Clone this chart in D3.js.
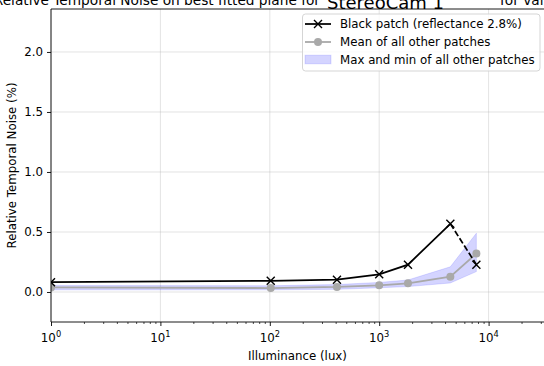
<!DOCTYPE html>
<html>
<head>
<meta charset="utf-8">
<script src="https://cdn.jsdelivr.net/npm/d3@7"></script>
<style>
  html, body { margin: 0; padding: 0; background: #fff; }
  svg { display: block; font-family: "DejaVu Sans", sans-serif; }
</style>
</head>
<body>
<svg id="chart" width="544" height="366"></svg>
<script>
// Illuminance levels (lux) at which the patches were measured
const illuminance = [1, 102, 411, 1000, 1833, 4470, 7730];
// Relative temporal noise (%) of the black patch
const blackPatch = [0.082, 0.093, 0.103, 0.147, 0.228, 0.568, 0.228];
// Mean, min and max of the remaining patches (%)
const meanOthers = [0.038, 0.033, 0.042, 0.056, 0.072, 0.128, 0.32];
const minOthers  = [0.018, 0.018, 0.022, 0.035, 0.045, 0.075, 0.17];
const maxOthers  = [0.055, 0.052, 0.062, 0.08, 0.10, 0.21, 0.49];

const xTicks = [1, 10, 100, 1000, 10000];
const xTickExp = ["0", "1", "2", "3", "4"];
const yTicks = [0.0, 0.5, 1.0, 1.5, 2.0];

const titleLead = "Relative Temporal Noise on best fitted plane for";
const titleCam = "StereoCam 1";
const titleTail = "for valid measurements";
const xLabel = "Illuminance (lux)";
const yLabel = "Relative Temporal Noise (%)";
const legendLabels = ["Black patch (reflectance 2.8%)", "Mean of all other patches", "Max and min of all other patches"];

const svg = d3.select("#chart");
const plotLeft = 51, plotRight = 544, plotTop = 9, plotBottom = 322;

const x = d3.scaleLog().domain([1, Math.pow(10, (plotRight - plotLeft) / 109.4)]).range([plotLeft, plotRight]);
const y = d3.scaleLinear().domain([-0.25, 2.358]).range([plotBottom, plotTop]);

const fontSize = 11.8;

svg.append("defs").append("clipPath").attr("id", "plotClip")
  .append("rect").attr("x", plotLeft).attr("y", plotTop)
  .attr("width", plotRight - plotLeft).attr("height", plotBottom - plotTop);

// grid
const grid = svg.append("g");
grid.selectAll("line.gx").data(xTicks).join("line")
  .attr("x1", d => x(d)).attr("x2", d => x(d)).attr("y1", plotTop).attr("y2", plotBottom)
  .attr("stroke", "#b0b0b0").attr("stroke-opacity", 0.45).attr("stroke-width", 0.8);
grid.selectAll("line.gy").data(yTicks).join("line")
  .attr("y1", d => y(d)).attr("y2", d => y(d)).attr("x1", plotLeft).attr("x2", plotRight)
  .attr("stroke", "#b0b0b0").attr("stroke-opacity", 0.45).attr("stroke-width", 0.8);

const plot = svg.append("g").attr("clip-path", "url(#plotClip)");

// min/max band
const band = d3.area()
  .x((d, i) => x(illuminance[i]))
  .y0((d, i) => y(minOthers[i]))
  .y1((d, i) => y(maxOthers[i]));
plot.append("path").datum(illuminance).attr("d", band)
  .attr("fill", "blue").attr("fill-opacity", 0.17).attr("stroke", "blue").attr("stroke-opacity", 0.12);

// mean of other patches
const line = d3.line().x(d => x(d[0])).y(d => y(d[1]));
const meanPts = illuminance.map((v, i) => [v, meanOthers[i]]);
plot.append("path").datum(meanPts).attr("d", line)
  .attr("fill", "none").attr("stroke", "darkgray").attr("stroke-width", 1.8);
plot.selectAll("circle.mean").data(meanPts).join("circle")
  .attr("cx", d => x(d[0])).attr("cy", d => y(d[1])).attr("r", 4).attr("fill", "darkgray");

// black patch: solid through the peak, dashed to the last point
const blackPts = illuminance.map((v, i) => [v, blackPatch[i]]);
plot.append("path").datum(blackPts.slice(0, 6)).attr("d", line)
  .attr("fill", "none").attr("stroke", "#000").attr("stroke-width", 1.75);
plot.append("path").datum(blackPts.slice(5)).attr("d", line)
  .attr("fill", "none").attr("stroke", "#000").attr("stroke-width", 1.75).attr("stroke-dasharray", "6,2.6");
const xMark = (cx, cy, s) => `M${cx - s},${cy - s}L${cx + s},${cy + s}M${cx - s},${cy + s}L${cx + s},${cy - s}`;
plot.selectAll("path.xm").data(blackPts).join("path")
  .attr("d", d => xMark(x(d[0]), y(d[1]), 4))
  .attr("stroke", "#000").attr("stroke-width", 1.4).attr("fill", "none");

// spines
svg.append("line").attr("x1", plotLeft).attr("x2", plotLeft).attr("y1", plotTop).attr("y2", plotBottom).attr("stroke", "#000").attr("stroke-width", 0.9);
svg.append("line").attr("x1", plotLeft).attr("x2", plotRight).attr("y1", plotBottom).attr("y2", plotBottom).attr("stroke", "#000").attr("stroke-width", 0.9);
svg.append("line").attr("x1", plotLeft).attr("x2", plotRight).attr("y1", plotTop).attr("y2", plotTop).attr("stroke", "#000").attr("stroke-width", 0.9);

// x axis (major + log minor ticks)
const xAxis = d3.axisBottom(x).tickValues(xTicks).tickSize(4).tickFormat("");
const gx = svg.append("g").attr("transform", `translate(0,${plotBottom})`).call(xAxis);
gx.select(".domain").remove();
gx.selectAll(".tick line").attr("stroke-width", 0.9);
const minors = [];
for (let dec = 1; dec <= 10000; dec *= 10)
  for (let m = 2; m <= 9; m++) { const v = dec * m; if (v <= x.domain()[1]) minors.push(v); }
const xMinor = d3.axisBottom(x).tickValues(minors).tickSize(2).tickFormat("");
const gxm = svg.append("g").attr("transform", `translate(0,${plotBottom})`).call(xMinor);
gxm.select(".domain").remove();
gxm.selectAll(".tick line").attr("stroke-width", 0.7);

const xl = svg.append("g").selectAll("text").data(xTicks).join("text")
  .attr("x", d => x(d)).attr("y", plotBottom + 20).attr("text-anchor", "middle")
  .attr("font-size", fontSize).attr("fill", "#000");
xl.append("tspan").text("10");
xl.append("tspan").text((d, i) => xTickExp[i]).attr("font-size", fontSize * 0.7).attr("dy", -5);

// y axis
const yAxis = d3.axisLeft(y).tickValues(yTicks).tickSize(4).tickFormat(d3.format(".1f")).tickPadding(4);
const gy = svg.append("g").attr("transform", `translate(${plotLeft},0)`).call(yAxis);
gy.select(".domain").remove();
gy.selectAll(".tick line").attr("stroke-width", 0.9);
gy.selectAll(".tick text").attr("font-size", fontSize).attr("font-family", "DejaVu Sans").attr("fill", "#000");

// axis labels
svg.append("text").attr("x", (plotLeft + plotRight) / 2).attr("y", 360).attr("text-anchor", "middle")
  .attr("font-size", fontSize).text(xLabel);
svg.append("text").attr("transform", `translate(16,${(plotTop + plotBottom) / 2}) rotate(-90)`)
  .attr("text-anchor", "middle").attr("font-size", fontSize).text(yLabel);

// title (runs past the top edge of the figure)
svg.append("text").attr("x", 320).attr("y", 5).attr("text-anchor", "end").attr("font-size", 13.7).text(titleLead);
svg.append("text").attr("x", 327).attr("y", 9).attr("font-size", 18).text(titleCam);
svg.append("text").attr("x", 500).attr("y", 5).attr("font-size", 13.7).text(titleTail);

// legend
const lg = svg.append("g");
lg.append("rect").attr("x", 302.5).attr("y", 14).attr("width", 237.5).attr("height", 57).attr("rx", 3)
  .attr("fill", "#fff").attr("fill-opacity", 0.8).attr("stroke", "#d0d0d0").attr("stroke-width", 0.9);
const rowY = [24, 42, 59.5];
lg.append("line").attr("x1", 305).attr("x2", 331).attr("y1", rowY[0]).attr("y2", rowY[0]).attr("stroke", "#000").attr("stroke-width", 1.75);
lg.append("path").attr("d", xMark(318, rowY[0], 4)).attr("stroke", "#000").attr("stroke-width", 1.4);
lg.append("line").attr("x1", 305).attr("x2", 331).attr("y1", rowY[1]).attr("y2", rowY[1]).attr("stroke", "darkgray").attr("stroke-width", 1.8);
lg.append("circle").attr("cx", 318).attr("cy", rowY[1]).attr("r", 4).attr("fill", "darkgray");
lg.append("rect").attr("x", 305).attr("y", rowY[2] - 4.3).attr("width", 26).attr("height", 8.6)
  .attr("fill", "blue").attr("fill-opacity", 0.17).attr("stroke", "blue").attr("stroke-opacity", 0.12);
lg.selectAll("text").data(legendLabels).join("text")
  .attr("x", 340).attr("y", (d, i) => rowY[i] + 4.2).attr("font-size", fontSize).text(d => d);
</script>
</body>
</html>
